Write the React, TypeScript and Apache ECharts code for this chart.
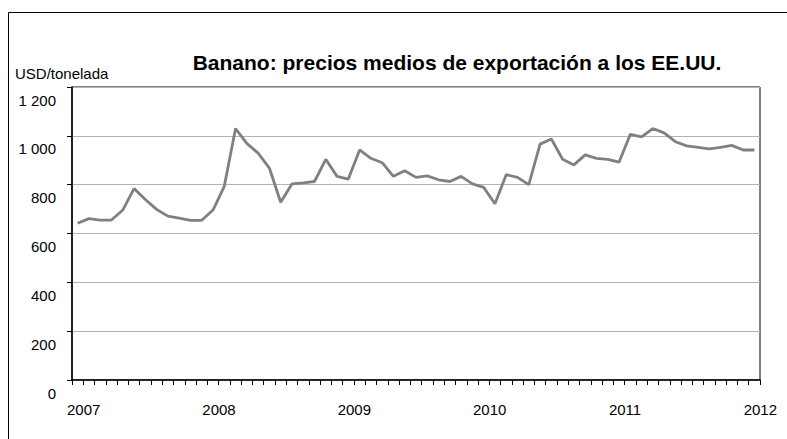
import React, { useEffect, useRef } from "react";
import * as echarts from "echarts";

const years = ["2007", "2008", "2009", "2010", "2011", "2012"];
const months = ["01", "02", "03", "04", "05", "06", "07", "08", "09", "10", "11", "12"];
const categories: string[] = [];
for (let y = 0; y < 5; y++) for (const m of months) categories.push(years[y] + "-" + m);
categories.push("2012-01");

const prices = [
  642, 661, 655, 655, 696, 784, 739, 699, 671, 663, 654, 654,
  696, 793, 1030, 969, 929, 868, 728, 803, 807, 813, 904, 834,
  823, 942, 908, 890, 834, 857, 830, 836, 820, 813, 834, 803,
  789, 722, 841, 830, 800, 966, 987, 904, 881, 922, 908, 904,
  892, 1006, 996, 1030, 1012, 976, 959, 953, 947, 953, 961, 942, 942,
];

const yTicks = [0, 200, 400, 600, 800, 1000, 1200];
const title = "Banano: precios medios de exportación a los EE.UU.";
const unitLabel = "USD/tonelada";

const FONT = "'Liberation Sans', Arial, Helvetica, sans-serif";

function fmtY(v: number): string {
  if (!yTicks.includes(v)) return "";
  if (v >= 1000) return Math.floor(v / 1000) + " " + String(v % 1000).padStart(3, "0");
  return String(v);
}

export default function App() {
  const ref = useRef<HTMLDivElement>(null);
  useEffect(() => {
    if (!ref.current) return;
    const chart = echarts.init(ref.current, null, { renderer: "svg" });
    chart.setOption({
      animation: false,
      backgroundColor: "#fff",
      textStyle: { fontFamily: FONT },
      graphic: [
        {
          type: "rect",
          shape: { x: 8.5, y: 12.5, width: 800, height: 450 },
          style: { fill: "none", stroke: "#000", lineWidth: 1 },
          silent: true,
        },
        {
          type: "text",
          x: 457,
          y: 62,
          style: {
            text: title,
            fontFamily: FONT,
            fontSize: 21,
            fontWeight: "bold",
            fill: "#000",
            align: "center",
            verticalAlign: "middle",
          },
        },
        {
          type: "text",
          x: 15,
          y: 73,
          style: {
            text: unitLabel,
            fontFamily: FONT,
            fontSize: 15,
            fill: "#000",
            align: "left",
            verticalAlign: "middle",
          },
        },
      ],
      grid: {
        left: 72,
        right: 27,
        top: 87,
        bottom: 59,
        show: true,
        borderColor: "#000",
        borderWidth: 1,
      },
      xAxis: {
        type: "category",
        data: categories,
        boundaryGap: true,
        axisLine: { lineStyle: { color: "#000", width: 1.5 } },
        axisTick: { show: true, interval: 0, length: 5, lineStyle: { color: "#000", width: 1 } },
        axisLabel: {
          interval: 11,
          margin: 22,
          color: "#000",
          fontSize: 15,
          fontFamily: FONT,
          padding: [0, 0, 0, 12],
          formatter: (v: string) => v.slice(0, 4),
        },
        splitLine: { show: false },
      },
      yAxis: {
        type: "value",
        min: 0,
        max: 1200,
        interval: 200,
        axisLine: { show: true, lineStyle: { color: "#000", width: 1.5 } },
        axisTick: { show: true, length: 5, lineStyle: { color: "#000" } },
        axisLabel: {
          margin: 16,
          color: "#000",
          fontSize: 15,
          fontFamily: FONT,
          verticalAlign: "top",
          lineHeight: 26,
          formatter: fmtY,
        },
        splitLine: { show: true, lineStyle: { color: "#b3b3b3", width: 1 } },
      },
      series: [
        {
          type: "line",
          data: prices,
          symbol: "none",
          lineStyle: { color: "#808080", width: 2.8 },
          z: 3,
        },
      ],
    });
    return () => chart.dispose();
  }, []);
  return (
    <div
      ref={ref}
      style={{ position: "absolute", left: 0, top: 0, width: 787, height: 439 }}
    />
  );
}
